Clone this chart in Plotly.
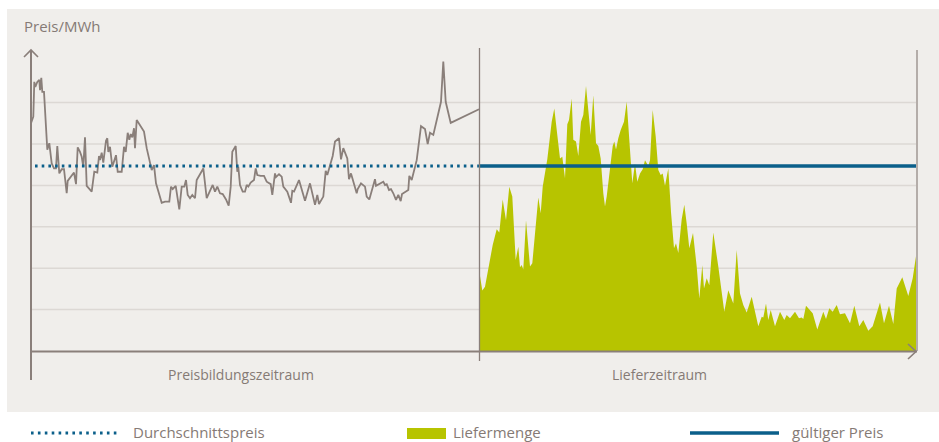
import plotly.graph_objects as go

# ---------------- data ----------------
# time index (arbitrary units), price-formation period 0..449, delivery period 449..886
PRICE_T = [0, 2.3, 3.3, 4.3, 6.3, 8.3, 9, 10.3, 11.3, 13, 16.3, 18.3, 20.7, 23, 25, 26.3, 28.3, 30.7, 33,
           35.7, 36.7, 40.7, 43, 45, 46.7, 49, 50.7, 52.3, 54, 55.7, 60.7, 63.3, 66.3, 68, 69, 70.7, 72.3,
           75, 76.3, 77.3, 79, 81.3, 85, 86.7, 90.7, 93, 94.7, 96.7, 98.3, 99.7, 101.3, 103, 104, 105.7,
           113, 115.7, 120.7, 123, 125, 130.7, 134, 138.3, 140, 141.7, 144.7, 148.3, 150.7, 153.3, 155,
           156.7, 159, 161.3, 164, 165.7, 172.3, 175.7, 181.7, 184, 186.3, 189, 191.7, 195, 197.7, 199.7,
           201.3, 204.7, 206.3, 207.3, 209, 211.7, 214, 215.7, 217.3, 219.7, 223, 224.7, 226.3, 229.7,
           233, 235.7, 239.7, 241.3, 244, 245, 248, 250.7, 252.3, 256.3, 260, 261.3, 263, 268, 274, 279,
           284, 286.3, 288, 292.3, 294.7, 296.3, 301.7, 304, 308, 310, 312.3, 316.3, 318, 320, 322.3,
           325.7, 326.7, 330, 334, 335.7, 338.3, 340.7, 344, 345, 352.3, 354, 355.7, 358, 360, 362.3,
           365, 367.3, 369.7, 371, 374.7, 377.3, 378.3, 380.7, 385.7, 390, 394, 396.7, 399, 402.3, 410,
           412.3, 414.7, 419.7, 448]
PRICE_V = [55.0, 56.6, 65.0, 63.8, 65.0, 65.5, 63.0, 66.0, 62.6, 62.6, 48.6, 50.2, 45.3, 44.1, 44.1, 49.5,
           42.9, 43.9, 43.9, 38.1, 41.1, 42.5, 43.1, 40.3, 49.2, 48.1, 46.9, 44.5, 51.6, 39.9, 38.5, 43.3,
           43.1, 47.1, 46.1, 47.9, 45.5, 50.8, 51.4, 48.1, 49.3, 44.5, 47.3, 43.3, 43.3, 49.3, 48.1, 52.7,
           51.0, 52.4, 51.6, 53.8, 49.0, 55.8, 53.0, 49.0, 43.7, 44.9, 40.5, 35.8, 36.1, 36.1, 39.7, 39.1,
           39.9, 34.2, 39.7, 39.7, 41.3, 37.7, 36.9, 37.7, 36.9, 41.3, 44.1, 36.9, 40.1, 38.5, 39.7, 38.1,
           37.9, 36.6, 35.1, 39.7, 48.1, 49.5, 43.3, 44.5, 40.1, 38.5, 38.5, 40.1, 39.7, 40.7, 41.3, 44.1,
           42.5, 42.3, 42.3, 40.9, 40.3, 37.7, 42.9, 42.0, 42.7, 42.1, 39.7, 38.5, 35.8, 38.7, 38.5, 41.3,
           36.3, 40.5, 35.3, 37.7, 35.5, 37.3, 43.5, 42.5, 47.1, 50.6, 51.4, 46.3, 49.0, 46.5, 41.5, 42.9,
           40.9, 38.1, 39.1, 40.5, 39.7, 37.3, 36.6, 38.5, 41.5, 39.9, 40.9, 40.1, 40.3, 38.9, 39.1, 38.1,
           36.5, 37.7, 36.2, 37.9, 38.5, 38.9, 42.3, 41.3, 46.1, 54.3, 53.6, 50.0, 52.7, 52.2, 60.2, 69.9,
           60.2, 55.1, 58.4]

DELIV_T = [449, 451.3, 454, 457.3, 461.7, 465.7, 468.3, 471.7, 475, 478.3, 481.3, 484.7, 487.3, 489,
           490.7, 492.3, 495, 499, 501.3, 507.3, 509.7, 511.7, 516.3, 520.7, 523.3, 526.3, 529, 531.3,
           534, 536.3, 538, 540.7, 542.3, 545, 547.3, 550, 552.3, 555, 558.3, 559.7, 562.3, 565, 567.3,
           569.7, 572.3, 574, 575.7, 578.3, 581.7, 583.3, 585, 587.3, 589.7, 593, 595.7, 598.3, 601.3,
           604, 606.3, 609, 611.7, 614, 617.3, 619, 621.7, 624.7, 627.3, 629.7, 631.7, 634, 637.3, 640,
           643, 645, 647.3, 650.7, 653.3, 655.7, 658.3, 662, 665.7, 668.3, 671.3, 673, 675.7, 678.3,
           682.3, 687.3, 693.3, 697.3, 702.3, 705.7, 709, 712.3, 715.7, 720.7, 724, 727.3, 730.7, 732.3,
           735, 737.3, 739.7, 744, 749, 753.3, 755.7, 759, 764, 768, 770.7, 772.3, 775, 781.7, 786.3,
           792.3, 795, 798.3, 801.7, 805.7, 809, 814, 819, 823.3, 828.3, 832.3, 837.3, 841.7, 849, 853,
           858, 862.3, 865.7, 871.3, 877.3, 881.7, 885, 886]
DELIV_V = [18.1, 14.6, 15.5, 20.0, 25.6, 29.4, 28.6, 36.6, 31.6, 39.7, 37.3, 22.0, 25.2, 20.2, 20.8, 19.7,
           31.6, 20.4, 21.2, 37.1, 33.3, 39.7, 46.3, 55.4, 58.6, 52.2, 46.5, 46.9, 41.7, 54.8, 55.8, 61.0,
           51.0, 50.6, 47.1, 55.4, 57.0, 64.0, 55.0, 52.2, 61.8, 50.2, 49.5, 46.5, 38.1, 34.9, 37.3, 43.3,
           49.5, 50.6, 48.7, 51.4, 53.4, 55.4, 60.2, 51.0, 40.5, 45.3, 40.9, 42.9, 43.9, 46.1, 44.7, 46.1,
           58.2, 51.8, 43.7, 42.5, 42.9, 39.9, 44.1, 33.6, 24.8, 26.0, 23.7, 31.8, 35.3, 30.8, 24.8, 28.5,
           20.4, 12.7, 20.7, 15.1, 17.6, 15.9, 28.6, 20.4, 9.5, 14.7, 11.5, 24.4, 13.9, 11.1, 9.3, 13.1,
           9.1, 6.0, 8.3, 8.1, 11.5, 7.5, 9.9, 6.0, 9.5, 7.5, 8.7, 7.9, 9.5, 7.9, 8.1, 7.7, 10.9, 9.1, 5.2,
           9.5, 7.7, 10.3, 9.5, 11.1, 8.9, 9.1, 6.7, 10.9, 6.0, 7.5, 4.9, 6.0, 11.7, 6.7, 10.9, 6.5, 15.1,
           17.8, 13.3, 17.6, 22.9, 24.0]

AVG_PRICE = 44.7
PERIOD_START, PERIOD_SPLIT, PERIOD_END = 0, 449, 886
AVG_START = 4
GRID_VALUES = [10, 20, 30, 40, 50, 60]

Y_TITLE = "Preis/MWh"
PERIOD_LABELS = ["Preisbildungszeitraum", "Lieferzeitraum"]
LEGEND_LABELS = ["Durchschnittspreis", "Liefermenge", "gültiger Preis"]

# ---------------- styles ----------------
W, H = 939, 442
PANEL = "#f0eeeb"
GRID = "#dcd8d4"
AXIS = "#8a7f7a"
RIGHT_LINE = "#b4ada9"
GREEN = "#b7c400"
BLUE = "#0b5f8a"
TEXT = "#857a75"
FONT = "Open Sans"

# pixel helpers for layout decorations (x origin at left axis, y origin at baseline)
X0_PX, Y0_PX, PX_PER_V = 31, 351, 4.14
def X(px):
    return px - X0_PX
def Y(py):
    return (Y0_PX - py) / PX_PER_V

fig = go.Figure()

fig.add_trace(go.Scatter(x=DELIV_T, y=DELIV_V, mode="lines", fill="tozeroy",
                         line=dict(width=0, color=GREEN), fillcolor=GREEN,
                         hoverinfo="skip", showlegend=False))
fig.add_trace(go.Scatter(x=PRICE_T, y=PRICE_V, mode="lines",
                         line=dict(width=1.8, color=AXIS), hoverinfo="skip", showlegend=False))
fig.add_trace(go.Scatter(x=[AVG_START, PERIOD_SPLIT], y=[AVG_PRICE, AVG_PRICE], mode="lines",
                         line=dict(width=3, color=BLUE, dash="2.6px,4.1px"),
                         hoverinfo="skip", showlegend=False))
fig.add_trace(go.Scatter(x=[PERIOD_SPLIT, PERIOD_END], y=[AVG_PRICE, AVG_PRICE], mode="lines",
                         line=dict(width=3.5, color=BLUE), hoverinfo="skip", showlegend=False))

shapes = []
# panel
shapes.append(dict(type="rect", layer="below", x0=X(7), x1=X(939), y0=Y(9), y1=Y(412),
                   fillcolor=PANEL, line=dict(width=0)))
# gridlines
for g in GRID_VALUES:
    shapes.append(dict(type="line", layer="below", x0=PERIOD_START, x1=PERIOD_END, y0=g, y1=g,
                       line=dict(color=GRID, width=1.5)))
# right vertical line
shapes.append(dict(type="line", layer="above", x0=PERIOD_END, x1=PERIOD_END, y0=0, y1=Y(50),
                   line=dict(color=RIGHT_LINE, width=2)))
# divider
shapes.append(dict(type="line", layer="above", x0=PERIOD_SPLIT - 0.5, x1=PERIOD_SPLIT - 0.5, y0=Y(361), y1=Y(48),
                   line=dict(color=AXIS, width=1.3)))
# y axis
shapes.append(dict(type="line", layer="above", x0=PERIOD_START, x1=PERIOD_START, y0=Y(380), y1=Y(50),
                   line=dict(color=AXIS, width=2)))
shapes.append(dict(type="path", layer="above",
                   path=f"M {X(24)},{Y(57)} L {X(31)},{Y(50)} L {X(38)},{Y(57)}",
                   line=dict(color=AXIS, width=1.6)))
# x axis
shapes.append(dict(type="line", layer="above", x0=PERIOD_START, x1=PERIOD_END, y0=Y(351.5), y1=Y(351.5),
                   line=dict(color=AXIS, width=2)))
shapes.append(dict(type="path", layer="above",
                   path=f"M {X(908)},{Y(344)} L {X(916)},{Y(351.5)} L {X(908)},{Y(359)}",
                   line=dict(color=AXIS, width=1.6)))
# legend symbols
shapes.append(dict(type="line", x0=X(31), x1=X(118), y0=Y(433), y1=Y(433),
                   line=dict(color=BLUE, width=3, dash="2.6px,4.3px")))
shapes.append(dict(type="rect", x0=X(407), x1=X(446), y0=Y(439), y1=Y(428),
                   fillcolor=GREEN, line=dict(width=0)))
shapes.append(dict(type="line", x0=X(690), x1=X(779), y0=Y(433), y1=Y(433),
                   line=dict(color=BLUE, width=3.5)))

annotations = [
    dict(x=X(22), y=Y(26), text=Y_TITLE, xanchor="left", yanchor="middle", showarrow=False,
         font=dict(family=FONT, size=15, color=TEXT)),
    dict(x=X(241), y=Y(374), text=PERIOD_LABELS[0], xanchor="center",
         yanchor="middle", showarrow=False, font=dict(family=FONT, size=14, color=TEXT)),
    dict(x=X(659), y=Y(374), text=PERIOD_LABELS[1], xanchor="center",
         yanchor="middle", showarrow=False, font=dict(family=FONT, size=14, color=TEXT)),
    dict(x=X(131), y=Y(432), text=LEGEND_LABELS[0], xanchor="left", yanchor="middle", showarrow=False,
         font=dict(family=FONT, size=15, color=TEXT)),
    dict(x=X(451), y=Y(432), text=LEGEND_LABELS[1], xanchor="left", yanchor="middle", showarrow=False,
         font=dict(family=FONT, size=15, color=TEXT)),
    dict(x=X(790), y=Y(432), text=LEGEND_LABELS[2], xanchor="left", yanchor="middle", showarrow=False,
         font=dict(family=FONT, size=15, color=TEXT)),
]

fig.update_layout(
    width=W, height=H, autosize=False,
    margin=dict(l=0, r=0, t=0, b=0, pad=0),
    paper_bgcolor="white", plot_bgcolor="white",
    xaxis=dict(range=[X(0), X(W)], visible=False, fixedrange=True),
    yaxis=dict(range=[Y(H), Y(0)], visible=False, fixedrange=True),
    shapes=shapes, annotations=annotations,
    showlegend=False,
)

fig.write_html("out.html", config={"displayModeBar": False},
               post_script="document.body.style.margin='0';document.body.style.overflow='hidden';")
